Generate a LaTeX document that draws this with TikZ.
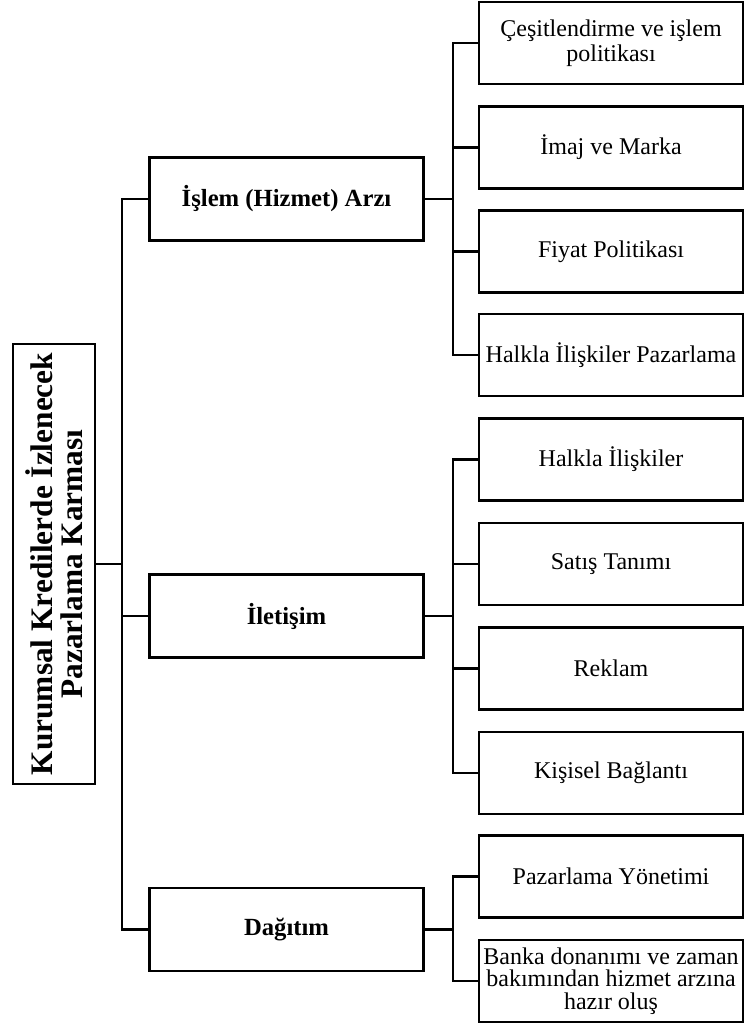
\documentclass[tikz,border=0pt]{standalone}
\usepackage{fontspec}
\setmainfont{Liberation Serif}
\usetikzlibrary{positioning}
\def\u{0.75pt}
\tikzset{
  rootbox/.style={draw, line width=2pt, rotate=90, minimum width=440*\u,
    minimum height=82*\u, align=center, inner sep=0pt,
    font=\fontsize{23.5}{22.5}\selectfont\bfseries},
  midbox/.style={draw, line width=1.9pt, minimum width=274*\u,
    minimum height=83*\u, align=center,
    font=\fontsize{18.5}{20}\selectfont\bfseries},
  leafbox/.style={draw, line width=1.8pt, minimum width=264*\u,
    minimum height=82*\u, align=center, inner sep=1pt,
    font=\fontsize{18}{17}\selectfont},
  link/.style={line width=1.7pt},
}
\begin{document}
\begin{tikzpicture}[x=\u, y=-\u]
  \useasboundingbox (0,0) rectangle (744,1030);

  % Root box
  \node[rootbox] (root) at (54,564) {Kurumsal Kredilerde İzlenecek\\Pazarlama Karması};

  % Main groups
  \foreach \name/\y/\lab in {
    arz/199/{İşlem (Hizmet) Arzı},
    ilt/616/{İletişim},
    dag/929.5/{Dağıtım}%
  }{
    \node[midbox] (\name) at (286.5,\y) {\lab};
  }

  % Leaves
  \foreach \name/\y/\lab in {
    l1/43/{Çeşitlendirme ve işlem\\[2pt]politikası},
    l2/147.5/{İmaj ve Marka},
    l3/251.5/{Fiyat Politikası},
    l4/355/{Halkla İlişkiler Pazarlama},
    l5/459.5/{Halkla İlişkiler},
    l6/564/{Satış Tanımı},
    l7/668.5/{Reklam},
    l8/773/{Kişisel Bağlantı},
    l9/876.5/{Pazarlama Yönetimi},
    l10/981/{Banka donanımı ve zaman\\bakımından hizmet arzına\\hazır oluş}%
  }{
    \node[leafbox] (\name) at (611,\y) {\lab};
  }

  % Trunk
  \coordinate (trunk) at (122,564);
  \draw[link] (root.south) -- (trunk);
  \draw[link] (arz.west) -| (trunk);
  \draw[link] (dag.west) -| (trunk);
  \draw[link] (ilt.west) -- (ilt.west -| trunk);

  % Branches
  \foreach \grp/\kids in {arz/{l1,l2,l3,l4}, ilt/{l5,l6,l7,l8}, dag/{l9,l10}}{
    \path (\grp.east) ++(28,0) coordinate (\grp j);
    \draw[link] (\grp.east) -- (\grp j);
    \foreach \k in \kids {
      \draw[link] (\k.west) -| (\grp j);
    }
  }
\end{tikzpicture}
\end{document}
